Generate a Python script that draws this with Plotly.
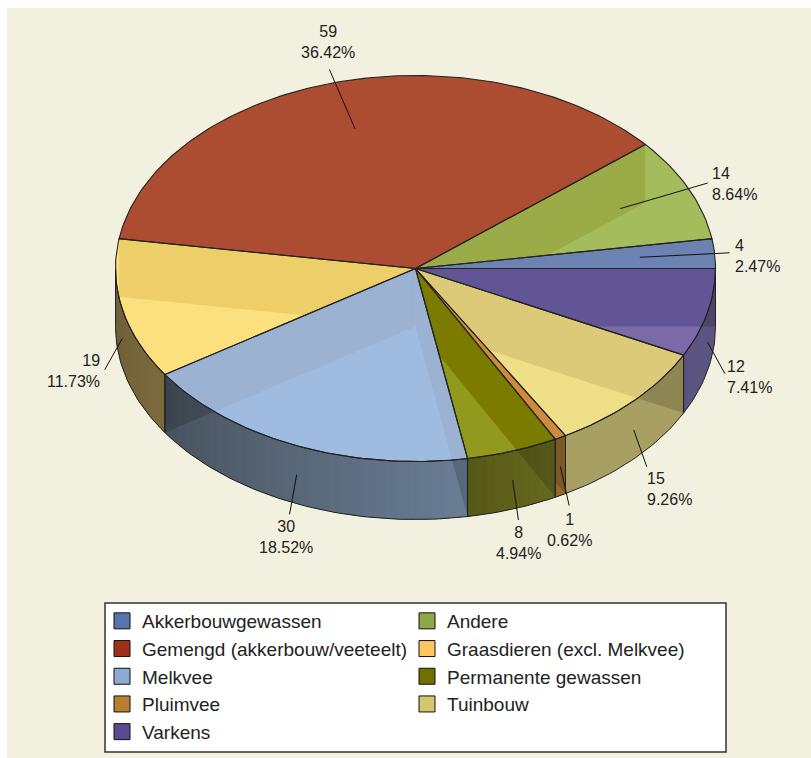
import math
import plotly.graph_objects as go

categories = ["Akkerbouwgewassen", "Andere", "Gemengd (akkerbouw/veeteelt)",
              "Graasdieren (excl. Melkvee)", "Melkvee", "Permanente gewassen",
              "Pluimvee", "Tuinbouw", "Varkens"]
values = [4, 14, 59, 19, 30, 8, 1, 15, 12]

legend_colors = ["#5874AC", "#8DA846", "#9C3118", "#FFC65E", "#8DAAD2", "#707000", "#B87F32", "#D4C66E", "#5A4A8E"]
top_light = ["#6B82B2", "#A5BC5C", "#AC4C30", "#FDE07E", "#A0BBE0", "#929A1E", "#CE8B3C", "#EEDF88", "#7A6BA8"]
top_dark = ["#6B82B2", "#9AAB48", "#AC4C30", "#EDCE68", "#9BB2D2", "#7B7B00", "#CE8B3C", "#DDCA78", "#625595"]
side_left = ["#5B5380", "#5B5380", "#5B5380", "#6E5E36", "#47525C", "#565816", "#96682C", "#A89F62", "#5B5380"]
side_right = ["#5B5380", "#5B5380", "#5B5380", "#7B6A3C", "#6A7D95", "#666A1E", "#96682C", "#A89F62", "#5B5380"]

label_anchor = ["left", "left", "center", "right", "center", "center", "center", "left", "left"]
label_vanchor = ["middle", "middle", "bottom", "middle", "top", "top", "top", "top", "middle"]
label_xshift = [3, 2, -1, -3, -4, 0, 0, -2, 0]
label_yshift = [-3, -1, 7, -1, -2, -2, -3, -1, -3]

W, H = 811, 758
CX, CY, RX, RY = 415.5, 268.5, 300.0, 193.0
DEPTH = 58.0 / RY
TOTAL = sum(values)
INK = "#222222"


def pt(a, r=1.0, dz=0.0):
    return (r * math.cos(a), r * math.sin(a) - dz)


def arc(a0, a1, n=80, dz=0.0):
    m = max(2, int(abs(a1 - a0) / (2 * math.pi) * n * 4))
    return [pt(a0 + (a1 - a0) * k / m, 1.0, dz) for k in range(m + 1)]


def area(p):
    return sum(p[i][0] * p[(i + 1) % len(p)][1] - p[(i + 1) % len(p)][0] * p[i][1] for i in range(len(p))) / 2


def clip(subject, clipper):
    """Sutherland-Hodgman against a convex clipper."""
    c = clipper if area(clipper) > 0 else clipper[::-1]
    out = subject
    for i in range(len(c)):
        a, b = c[i], c[(i + 1) % len(c)]
        side = lambda p: (b[0] - a[0]) * (p[1] - a[1]) - (b[1] - a[1]) * (p[0] - a[0])
        src, out = out, []
        for j in range(len(src)):
            p, q = src[j], src[(j + 1) % len(src)]
            sp, sq = side(p), side(q)
            if sp >= 0:
                out.append(p)
            if (sp >= 0) != (sq >= 0):
                t = sp / (sp - sq)
                out.append((p[0] + t * (q[0] - p[0]), p[1] + t * (q[1] - p[1])))
        if not out:
            return []
    return out


def wall(a):
    e = pt(a)
    return [(0, 0), e, (e[0], e[1] - DEPTH), (0, -DEPTH)]


def mix(c0, c1, t):
    v0 = [int(c0[i:i + 2], 16) for i in (1, 3, 5)]
    v1 = [int(c1[i:i + 2], 16) for i in (1, 3, 5)]
    return "rgb(%d,%d,%d)" % tuple(round(x + (y - x) * t) for x, y in zip(v0, v1))


fig = go.Figure()


def poly(p, fill=None, line=None, width=1.0, closed=True):
    if len(p) < 2:
        return
    xs = [q[0] for q in p]
    ys = [q[1] for q in p]
    if closed:
        xs.append(xs[0])
        ys.append(ys[0])
    fig.add_trace(go.Scatter(
        x=xs, y=ys, mode="lines", showlegend=False, hoverinfo="skip",
        fill="toself" if fill else None, fillcolor=fill,
        line=dict(color=line or "rgba(0,0,0,0)", width=width if line else 0),
    ))


# slice angles, counter-clockwise from east
angles = []
acc = 0.0
for v in values:
    a0 = acc / TOTAL * 2 * math.pi
    acc += v
    angles.append((a0, acc / TOTAL * 2 * math.pi))

# side walls
for i, (a0, a1) in enumerate(angles):
    lo, hi = max(a0, math.pi), a1
    if hi <= lo:
        continue
    body = arc(lo, hi) + arc(hi, lo, dz=DEPTH)
    poly(body, fill=mix(side_left[i], side_right[i], 0.5))
    if side_left[i] != side_right[i]:
        n = 30 if values[i] >= 19 else 10
        for k in range(n):
            s0 = lo + (hi - lo) * k / n
            s1 = lo + (hi - lo) * (k + 1.4) / n
            t = (k + .5) / n
            poly(arc(s0, min(s1, hi)) + arc(min(s1, hi), s0, dz=DEPTH), fill=mix(side_left[i], side_right[i], t))
    for w in (a0, a1):
        part = clip(body, wall(w))
        if len(part) > 2 and abs(area(part)) > 1e-4:
            poly(part, fill="rgba(0,0,0,0.16)")

# top faces with the inner faces seen through them
for i, (a0, a1) in enumerate(angles):
    sector = [(0, 0)] + arc(a0, a1)
    poly(sector, fill=top_light[i])
    for w in (a0, a1):
        part = clip(wall(w), sector)
        if len(part) > 2 and abs(area(part)) > 1e-4:
            poly(part, fill=top_dark[i])

# outlines
for i, (a0, a1) in enumerate(angles):
    poly([(0, 0)] + arc(a0, a1), line=INK, width=1.1)
    lo, hi = max(a0, math.pi), a1
    if hi > lo:
        poly(arc(lo, hi) + arc(hi, lo, dz=DEPTH), line=INK, width=1.0)

# leader lines and labels
for i, (a0, a1) in enumerate(angles):
    m = (a0 + a1) / 2
    if math.sin(m) >= 0:
        p0, p1 = pt(m, 0.75), pt(m, 1.05 if values[i] == 4 else 1.07)
    else:
        p0, p1 = pt(m, 1.0, DEPTH * 0.5), pt(m, 1.06, DEPTH)
    poly([p0, p1], line="#111111", width=1.0, closed=False)
    fig.add_annotation(
        x=p1[0], y=p1[1], xref="x", yref="y", showarrow=False,
        text=f"{values[i]}<br>{values[i] / TOTAL * 100:.2f}%",
        xanchor=label_anchor[i], yanchor=label_vanchor[i], align=label_anchor[i],
        xshift=label_xshift[i], yshift=label_yshift[i],
        font=dict(family="Liberation Sans", size=16, color="#222222"),
    )

# legend entries
for name, col in zip(categories, legend_colors):
    fig.add_trace(go.Scatter(
        x=[None], y=[None], mode="markers", name=name, showlegend=True,
        marker=dict(symbol="square", size=16, color=col, line=dict(color="#111111", width=1)),
    ))

fig.update_layout(
    width=W, height=H, autosize=False,
    margin=dict(l=0, r=0, t=0, b=0),
    paper_bgcolor="white", plot_bgcolor="rgba(0,0,0,0)",
    xaxis=dict(range=[-CX / RX, (W - CX) / RX], visible=False, fixedrange=True),
    yaxis=dict(range=[-(H - CY) / RY, CY / RY], visible=False, fixedrange=True),
    shapes=[
        dict(type="rect", xref="paper", yref="paper", layer="below",
             x0=7 / W, x1=1, y0=0, y1=1 - 8 / H,
             fillcolor="#F2F1DF", line=dict(width=0)),
        dict(type="rect", xref="paper", yref="paper", layer="below",
             x0=105 / W, x1=726 / W, y0=1 - 752 / H, y1=1 - 603 / H,
             fillcolor="white", line=dict(color="#333333", width=1.5)),
    ],
    legend=dict(
        orientation="h", x=102 / W, y=1 - 602 / H, xanchor="left", yanchor="top",
        bgcolor="rgba(0,0,0,0)", borderwidth=0,
        entrywidth=260, entrywidthmode="pixels", itemsizing="trace",
        font=dict(family="Liberation Sans", size=19, color="#222222"),
        traceorder="normal",
    ),
)
fig.write_html("out.html", config=dict(displayModeBar=False),
               post_script="document.body.style.margin='0';document.body.style.overflow='hidden';")
